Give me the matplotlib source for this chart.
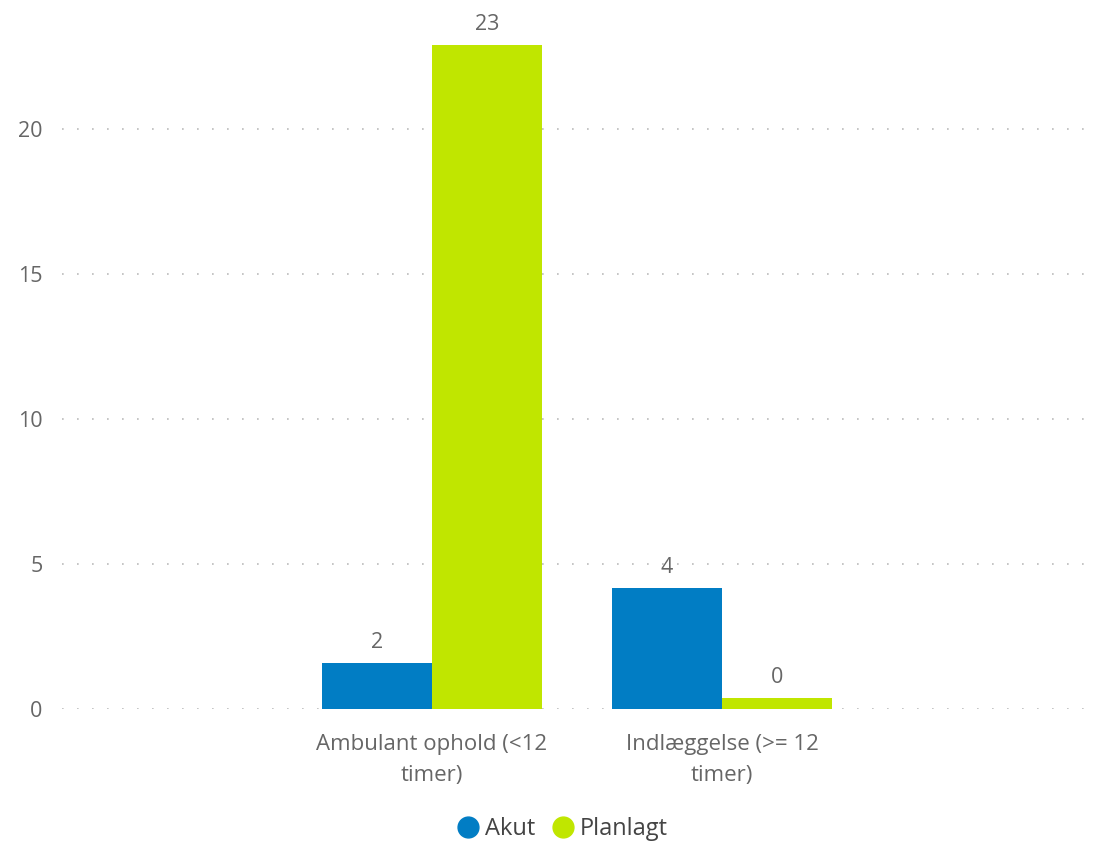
import matplotlib
matplotlib.use("Agg")
import matplotlib.pyplot as plt
import numpy as np
from matplotlib.lines import Line2D

categories = ["Ambulant ophold (<12\ntimer)", "Indlæggelse (>= 12\ntimer)"]
series_names = ["Akut", "Planlagt"]
akut = [1.6, 4.17]
planlagt = [22.9, 0.38]
yticks = [0, 5, 10, 15, 20]

colors = ["#017DC4", "#C0E600"]
txt = "#666666"
plt.rcParams['font.family'] = ['Open Sans', 'DejaVu Sans']

W, H = 1099, 844
fig = plt.figure(figsize=(W / 100, H / 100), dpi=100)
ax_left, ax_right = 62, 1095
y0_px, y20_px = 709, 129
ppu = (y0_px - y20_px) / 20.0
top_px = 8
ymax = (y0_px - top_px) / ppu
ax = fig.add_axes([ax_left / W, (H - y0_px) / H, (ax_right - ax_left) / W, (y0_px - top_px) / H])

x = np.arange(len(categories))
cat_sp = 290.0
w = 110 / cat_sp
ax.set_xlim((ax_left - 432) / cat_sp, (ax_right - 432) / cat_sp)
ax.set_ylim(0, ymax)

for i, (vals, c) in enumerate(zip([akut, planlagt], colors)):
    xs = x + (i - 0.5) * w
    ax.bar(xs, vals, width=w, color=c, zorder=3)
    for xi, v in zip(xs, vals):
        ax.annotate(f"{round(v)}", (xi, v), xytext=(0, 7), textcoords="offset points",
                    ha="center", va="bottom", fontsize=15.5, color=txt)

ax.set_yticks(yticks)
ax.set_yticklabels([str(t) for t in yticks], fontsize=15.5, color=txt)
ax.tick_params(axis="y", length=0, pad=14)
ax.set_xticks([])
for xi, lab in zip(x, categories):
    ax.text(xi, -(734 - y0_px) / ppu, lab, ha="center", va="top", fontsize=16,
            color=txt, linespacing=1.6, transform=ax.transData, clip_on=False)

for t in yticks:
    ax.axhline(t, color="#BBBBBB", lw=1.2, linestyle=(0, (1, 8)), zorder=1)
for s in ax.spines.values():
    s.set_visible(False)

handles = [Line2D([], [], marker="o", linestyle="", markersize=15, color=c) for c in colors]
fig.legend(handles, series_names, loc="center", bbox_to_anchor=(556 / W, 1 - 829 / H),
           ncol=2, frameon=False, fontsize=17, handletextpad=-0.3, columnspacing=0.2,
           labelcolor="#444444")

fig.savefig("out.png", dpi=100)
